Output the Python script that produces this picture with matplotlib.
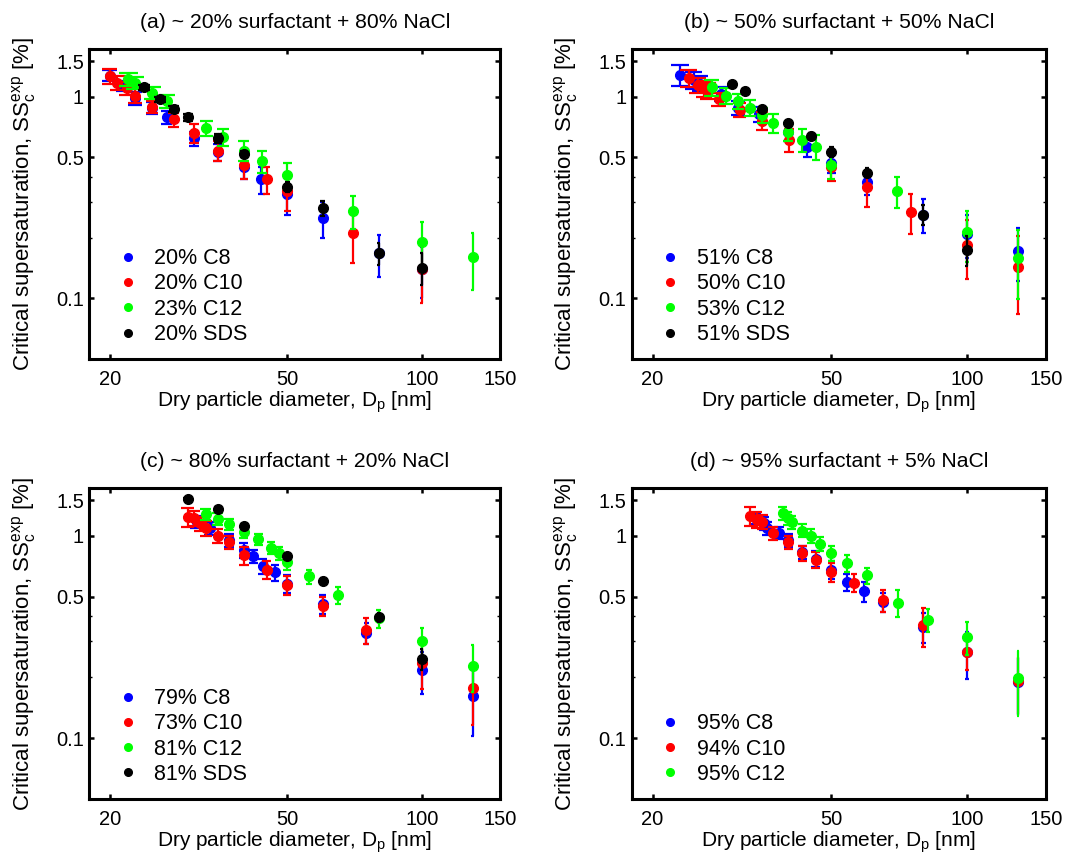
import numpy as np
import matplotlib
matplotlib.use('Agg')
import matplotlib.pyplot as plt
from matplotlib.ticker import FixedLocator, NullFormatter, NullLocator
from matplotlib.lines import Line2D

plt.rcParams['font.family'] = ['Liberation Sans', 'DejaVu Sans']
plt.rcParams['mathtext.fontset'] = 'custom'
plt.rcParams['mathtext.rm'] = 'Liberation Sans'
plt.rcParams['mathtext.it'] = 'Liberation Sans:italic'
plt.rcParams['mathtext.default'] = 'regular'

# ---- data: dry diameter [nm], critical supersaturation [%], error [%] ----
# (a) ~20% surfactant + 80% NaCl
a_c8_d = [20, 21.4, 22.8, 24.9, 26.8, 30.9, 34.9, 39.9, 43.7, 50, 60, 80, 100]
a_c8_ss = [1.27, 1.13, 0.98, 0.88, 0.79, 0.62, 0.53, 0.45, 0.39, 0.33, 0.25, 0.167, 0.14]
a_c8_err = [0.08, 0.07, 0.07, 0.06, 0.06, 0.05, 0.05, 0.06, 0.06, 0.07, 0.05, 0.04, 0.04]
a_c10_d = [20, 20.8, 21.8, 22.8, 24.9, 27.8, 30.9, 34.9, 39.9, 44.9, 50, 70, 100]
a_c10_ss = [1.26, 1.17, 1.10, 1.01, 0.89, 0.77, 0.66, 0.54, 0.46, 0.39, 0.34, 0.21, 0.14]
a_c10_err = [0.11, 0.09, 0.08, 0.08, 0.06, 0.06, 0.07, 0.06, 0.07, 0.06, 0.07, 0.06, 0.045]
a_c12_d = [22, 22.8, 24.9, 26.9, 32.9, 35.9, 39.9, 43.9, 50, 70, 100, 130]
a_c12_ss = [1.22, 1.17, 1.04, 0.95, 0.70, 0.63, 0.54, 0.48, 0.41, 0.27, 0.19, 0.16]
a_c12_err = [0.09, 0.08, 0.07, 0.07, 0.06, 0.06, 0.06, 0.06, 0.06, 0.05, 0.05, 0.05]
a_sds_d = [23.9, 25.9, 27.8, 29.9, 34.9, 39.9, 50, 60, 80, 100]
a_sds_ss = [1.11, 0.97, 0.87, 0.79, 0.62, 0.52, 0.355, 0.28, 0.167, 0.142]
a_sds_err = [0.03, 0.03, 0.03, 0.03, 0.03, 0.02, 0.02, 0.025, 0.02, 0.025]

# (b) ~50% surfactant + 50% NaCl
b_c8_d = [23, 24.7, 25.5, 28.4, 31, 34.5, 40, 44.2, 50, 60, 80, 100, 130]
b_c8_ss = [1.28, 1.21, 1.16, 1.03, 0.88, 0.82, 0.67, 0.56, 0.47, 0.375, 0.26, 0.208, 0.172]
b_c8_err = [0.15, 0.12, 0.10, 0.08, 0.07, 0.07, 0.07, 0.06, 0.05, 0.05, 0.05, 0.05, 0.05]
b_c10_d = [24.1, 25.2, 26, 26.6, 28.1, 31.3, 35, 40.3, 50, 60, 75, 100, 130]
b_c10_ss = [1.24, 1.14, 1.10, 1.07, 0.97, 0.86, 0.76, 0.61, 0.45, 0.355, 0.269, 0.184, 0.1435]
b_c10_err = [0.12, 0.10, 0.10, 0.10, 0.07, 0.07, 0.08, 0.08, 0.07, 0.07, 0.06, 0.06, 0.06]
b_c12_d = [27.1, 29.1, 31, 33, 35.1, 37.1, 40.1, 43.1, 46.2, 50, 70, 100, 130]
b_c12_ss = [1.11, 1.01, 0.95, 0.88, 0.81, 0.74, 0.67, 0.61, 0.565, 0.46, 0.34, 0.212, 0.159]
b_c12_err = [0.10, 0.09, 0.08, 0.08, 0.07, 0.08, 0.07, 0.08, 0.08, 0.07, 0.06, 0.06, 0.06]
b_sds_d = [30.1, 32.1, 35.1, 40.1, 45.1, 50, 60, 80, 100]
b_sds_ss = [1.15, 1.07, 0.87, 0.74, 0.64, 0.53, 0.42, 0.26, 0.174]
b_sds_err = [0.02, 0.02, 0.02, 0.02, 0.02, 0.03, 0.02, 0.03, 0.03]

# (c) ~80% surfactant + 20% NaCl
c_c8_d = [31.3, 33.5, 37, 39.9, 41.9, 44, 46.9, 49.9, 59.9, 75, 100, 130]
c_c8_ss = [1.17, 1.09, 0.95, 0.85, 0.79, 0.71, 0.66, 0.58, 0.46, 0.33, 0.216, 0.162]
c_c8_err = [0.08, 0.08, 0.07, 0.07, 0.06, 0.06, 0.06, 0.06, 0.05, 0.04, 0.05, 0.06]
c_c10_d = [29.9, 30.8, 31.8, 32.8, 34.9, 37, 39.9, 44.9, 49.9, 59.9, 75, 100, 130]
c_c10_ss = [1.24, 1.22, 1.15, 1.09, 1.0, 0.93, 0.80, 0.68, 0.57, 0.45, 0.343, 0.234, 0.176]
c_c10_err = [0.13, 0.10, 0.09, 0.09, 0.08, 0.07, 0.08, 0.07, 0.06, 0.05, 0.05, 0.06, 0.06]
c_c12_d = [32.8, 34.9, 37, 39.9, 43, 45.9, 47.9, 49.9, 55.9, 65, 80, 100, 130]
c_c12_ss = [1.28, 1.21, 1.14, 1.04, 0.96, 0.87, 0.82, 0.74, 0.63, 0.51, 0.39, 0.30, 0.228]
c_c12_err = [0.08, 0.08, 0.07, 0.07, 0.06, 0.06, 0.06, 0.06, 0.05, 0.05, 0.04, 0.05, 0.06]
c_sds_d = [29.9, 34.9, 39.9, 49.9, 59.9, 80, 100]
c_sds_ss = [1.52, 1.36, 1.12, 0.79, 0.60, 0.396, 0.246]
c_sds_err = [0.02, 0.02, 0.02, 0.02, 0.02, 0.02, 0.03]

# (d) ~95% surfactant + 5% NaCl
d_c8_d = [33.9, 35.4, 36, 38.2, 40.1, 43.1, 46.1, 50, 54.1, 59.1, 65.2, 80.1, 100, 130]
d_c8_ss = [1.22, 1.15, 1.09, 1.03, 0.95, 0.83, 0.77, 0.68, 0.59, 0.53, 0.47, 0.354, 0.266, 0.19]
d_c8_err = [0.08, 0.08, 0.08, 0.07, 0.07, 0.06, 0.07, 0.07, 0.06, 0.06, 0.05, 0.06, 0.07, 0.06]
d_c10_d = [33, 34.1, 35.1, 37.1, 40.1, 43.1, 46.1, 50, 56.1, 65.2, 80.1, 100, 130]
d_c10_ss = [1.25, 1.20, 1.17, 1.03, 0.93, 0.82, 0.76, 0.66, 0.585, 0.48, 0.361, 0.266, 0.191]
d_c10_err = [0.13, 0.11, 0.09, 0.08, 0.07, 0.07, 0.07, 0.07, 0.06, 0.06, 0.08, 0.05, 0.06]
d_c12_d = [39, 40, 40.8, 43.1, 45.1, 47.2, 50, 54.1, 60.1, 70.2, 82.1, 100, 130]
d_c12_ss = [1.29, 1.22, 1.165, 1.06, 1.0, 0.91, 0.82, 0.73, 0.636, 0.467, 0.385, 0.316, 0.198]
d_c12_err = [0.10, 0.09, 0.08, 0.08, 0.08, 0.07, 0.07, 0.07, 0.06, 0.07, 0.05, 0.06, 0.07]

titles = ['(a) ~ 20% surfactant + 80% NaCl', '(b) ~ 50% surfactant + 50% NaCl',
          '(c) ~ 80% surfactant + 20% NaCl', '(d) ~ 95% surfactant + 5% NaCl']
labels_a = ['20% C8', '20% C10', '23% C12', '20% SDS']
labels_b = ['51% C8', '50% C10', '53% C12', '51% SDS']
labels_c = ['79% C8', '73% C10', '81% C12', '81% SDS']
labels_d = ['95% C8', '94% C10', '95% C12']

colors = ['#0000ff', '#ff0000', '#00ff00', '#000000']

panels = [
    ([(a_c8_d, a_c8_ss, a_c8_err), (a_c10_d, a_c10_ss, a_c10_err),
      (a_c12_d, a_c12_ss, a_c12_err), (a_sds_d, a_sds_ss, a_sds_err)], labels_a),
    ([(b_c8_d, b_c8_ss, b_c8_err), (b_c10_d, b_c10_ss, b_c10_err),
      (b_c12_d, b_c12_ss, b_c12_err), (b_sds_d, b_sds_ss, b_sds_err)], labels_b),
    ([(c_c8_d, c_c8_ss, c_c8_err), (c_c10_d, c_c10_ss, c_c10_err),
      (c_c12_d, c_c12_ss, c_c12_err), (c_sds_d, c_sds_ss, c_sds_err)], labels_c),
    ([(d_c8_d, d_c8_ss, d_c8_err), (d_c10_d, d_c10_ss, d_c10_err),
      (d_c12_d, d_c12_ss, d_c12_err)], labels_d),
]

rects = [[0.0840, 0.5806, 0.3859, 0.3621], [0.5934, 0.5806, 0.3887, 0.3621],
         [0.0840, 0.0666, 0.3859, 0.3633], [0.5934, 0.0666, 0.3887, 0.3633]]

fig = plt.figure(figsize=(10.65, 8.56), dpi=100)

for k, (series, labels) in enumerate(panels):
    ax = fig.add_axes(rects[k])
    for i, (d, ss, err) in enumerate(series):
        d = np.array(d)
        ss = np.array(ss)
        err = np.array(err)
        c = colors[i]
        z = 3 + i
        tee = (d.max() - d.min()) / 100.0   # matlab-style cap half width
        ax.vlines(d, ss - err, ss + err, color=c, lw=1.6, zorder=z)
        ax.hlines(ss - err, d - tee, d + tee, color=c, lw=1.6, zorder=z)
        ax.hlines(ss + err, d - tee, d + tee, color=c, lw=1.6, zorder=z)
        ax.plot(d, ss, 'o', color=c, ms=7, mec=c, zorder=z)

    ax.set_xscale('log')
    ax.set_yscale('log')
    ax.set_xlim(18, 150)
    ax.set_ylim(0.05, 1.72)

    ax.xaxis.set_major_locator(FixedLocator([20, 50, 100, 150]))
    ax.xaxis.set_minor_locator(NullLocator())
    ax.set_xticklabels(['20', '50', '100', '150'])
    ax.yaxis.set_major_locator(FixedLocator([0.1, 0.5, 1, 1.5]))
    ax.set_yticklabels(['0.1', '0.5', '1', '1.5'])
    ax.yaxis.set_minor_locator(FixedLocator([0.2, 0.3, 0.4]))
    ax.yaxis.set_minor_formatter(NullFormatter())

    ax.tick_params(which='major', direction='in', top=True, right=True,
                   length=3.5, width=1.8, labelsize=14.5)
    ax.tick_params(axis='x', which='major', pad=8)
    ax.tick_params(axis='y', which='major', pad=4)
    ax.tick_params(which='minor', direction='in', right=True, length=2.5, width=1.0)
    for sp in ax.spines.values():
        sp.set_linewidth(2.2)

    ax.set_title(titles[k], fontsize=15.2, pad=15)
    ax.set_xlabel('Dry particle diameter, D$_p$ [nm]', fontsize=15)
    ax.xaxis.set_label_coords(0.5, -0.097)
    ax.set_ylabel('Critical supersaturation, SS$_c^{exp}$ [%]', fontsize=16)
    ax.yaxis.set_label_coords(-0.123, 0.5)

    handles = [Line2D([], [], marker='o', ls='none', color=colors[i], ms=5.5)
               for i in range(len(labels))]
    ax.legend(handles, labels, loc='lower left', bbox_to_anchor=(0.067, 0.045),
              frameon=False, fontsize=15.5, handlelength=1.0, handletextpad=0.72,
              labelspacing=0.2, borderpad=0, borderaxespad=0)

fig.savefig('out.png', dpi=100)
